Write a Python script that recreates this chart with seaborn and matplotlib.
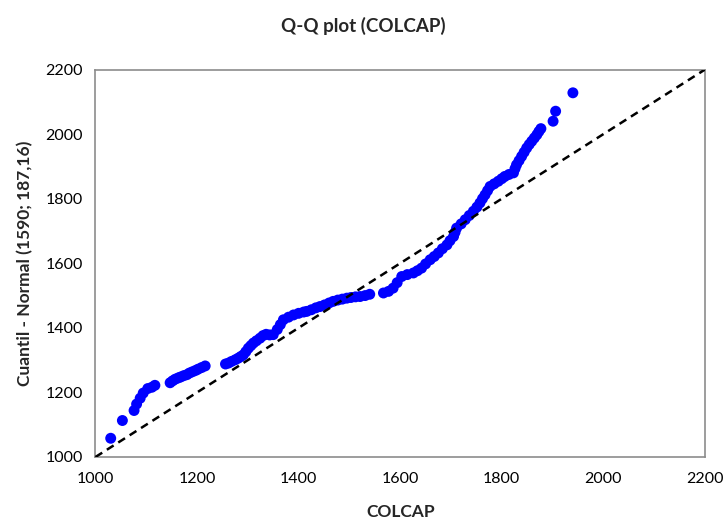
import numpy as np
import pandas as pd
import matplotlib
matplotlib.use("Agg")
import matplotlib.pyplot as plt
import seaborn as sns

# valores (COLCAP vs cuantil normal)
colcap = [1030, 1053, 1076, 1081, 1088, 1094, 1103, 1111, 1117,
          1147, 1152, 1157, 1163, 1168, 1174, 1180, 1185, 1191, 1197, 1202, 1209, 1216,
          1256, 1262, 1268, 1275, 1281, 1286, 1291, 1296, 1301, 1306, 1311, 1317, 1324,
          1330, 1336, 1343, 1350, 1358, 1364, 1370, 1380, 1390, 1400, 1410, 1416, 1425,
          1434, 1442, 1451, 1460, 1468, 1477, 1486, 1495, 1503, 1512, 1521, 1531, 1540,
          1567, 1577, 1586, 1594, 1603, 1614, 1626, 1634, 1642, 1650, 1659, 1667, 1675,
          1683, 1692, 1698, 1705, 1708, 1711, 1720, 1728, 1736, 1744, 1751, 1757, 1762,
          1767, 1772, 1777, 1785, 1793, 1800, 1806, 1814, 1823, 1826, 1829, 1834, 1839,
          1844, 1849, 1854, 1859, 1864, 1869, 1873, 1877,
          1901, 1906, 1940]
cuantil = [1058, 1113, 1144, 1164, 1182, 1198, 1212, 1216, 1222,
           1230, 1236, 1241, 1245, 1248, 1252, 1255, 1260, 1264, 1268, 1272, 1277, 1282,
           1288, 1291, 1296, 1301, 1306, 1311, 1316, 1326, 1337, 1345, 1353, 1360, 1368,
           1376, 1380, 1378, 1379, 1395, 1410, 1425, 1433, 1440, 1445, 1449, 1451, 1456,
           1462, 1466, 1471, 1477, 1482, 1486, 1489, 1492, 1494, 1496, 1497, 1500, 1504,
           1508, 1513, 1523, 1540, 1559, 1565, 1570, 1577, 1585, 1598, 1611, 1621, 1632,
           1645, 1657, 1670, 1683, 1696, 1709, 1722, 1735, 1748, 1761, 1774, 1787, 1800,
           1812, 1825, 1838, 1846, 1854, 1862, 1869, 1875, 1880, 1893, 1905, 1918, 1931,
           1944, 1957, 1968, 1978, 1988, 1998, 2008, 2017,
           2040, 2071, 2128]
ref_line = [1000, 2200]

df = pd.DataFrame({"COLCAP": colcap, "cuantil": cuantil})
ref = pd.DataFrame({"x": ref_line, "y": ref_line})

sns.set_style("white")
plt.rcParams["font.family"] = ["Lato", "DejaVu Sans"]

fig = plt.figure(figsize=(7.26, 5.23), dpi=100)
ax = fig.add_axes([0.1315, 0.1262, 0.8395, 0.7408])

sns.lineplot(data=ref, x="x", y="y", ax=ax, color="black", linewidth=1.8,
             linestyle=(0, (3.2, 2.2)), zorder=3)
sns.scatterplot(data=df, x="COLCAP", y="cuantil", ax=ax, color="#0000ff",
                s=62, edgecolor="none", zorder=2)

ax.set_xlim(1000, 2200)
ax.set_ylim(1000, 2200)
ax.set_xticks(range(1000, 2201, 200))
ax.set_yticks(range(1000, 2201, 200))
for sp in ax.spines.values():
    sp.set_color("#8c8c8c")
    sp.set_linewidth(1.2)
ax.tick_params(direction="out", length=5, width=1.2, color="#8c8c8c",
               labelsize=11.5, labelcolor="black", pad=4)
ax.tick_params(axis="x", pad=6)

ax.set_xlabel("COLCAP", fontsize=12.5, fontweight="bold", labelpad=13)
ax.set_ylabel("Cuantil - Normal (1590; 187,16)", fontsize=12.5, fontweight="bold",
              labelpad=9)
fig.suptitle("Q-Q plot (COLCAP)", x=0.5, y=0.967, fontsize=13.5, fontweight="bold")

fig.savefig("out.png", dpi=100)
